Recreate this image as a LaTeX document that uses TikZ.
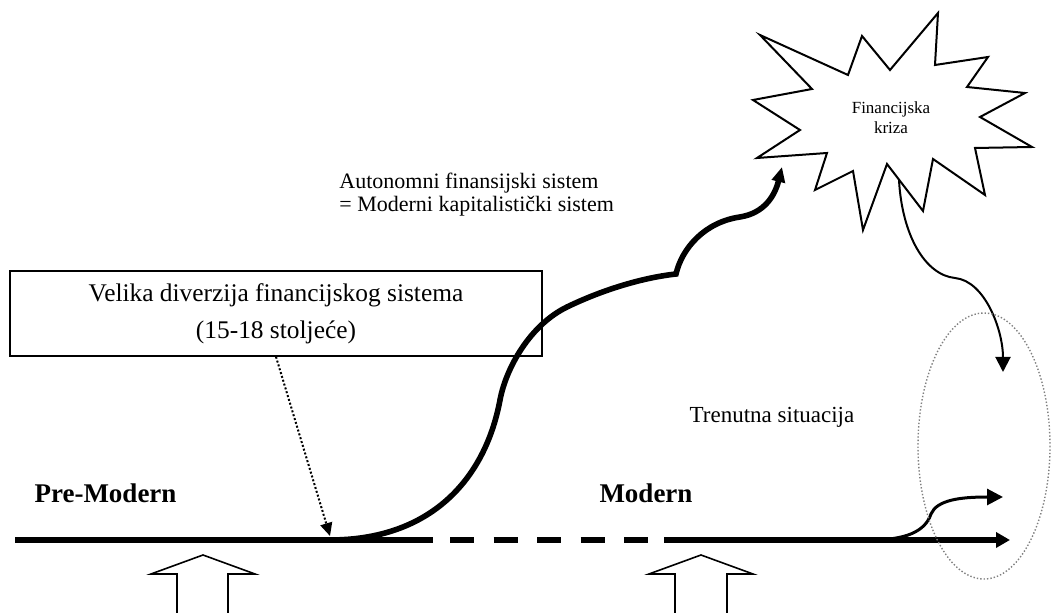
\documentclass[tikz,border=0pt]{standalone}
\usepackage{fontspec}
\setmainfont{Liberation Serif}
\usetikzlibrary{arrows.meta}
\usetikzlibrary{calc}

\begin{document}
\begin{tikzpicture}[x=0.5pt,y=-0.5pt,
    timeline/.style={black, line width=3pt},
    growth/.style={black, line width=2.8pt, -{Triangle[length=7.5pt,width=6.5pt]}},
    thinarrow/.style={black, line width=1pt, -{Triangle[length=7.5pt,width=7.5pt]}},
    hollowup/.style={black, line width=0.8pt, fill=white},
    eralabel/.style={font=\bfseries\fontsize{13.5}{16}\selectfont}]
            \useasboundingbox (0,0) rectangle (1051,613);

            \coordinate (origin) at (15,540);
            \coordinate (split) at (330,540);
            \coordinate (gapstart) at (433,540);
            \coordinate (dashstart) at (450,540);
            \coordinate (dashend) at (648,540);
            \coordinate (modern) at (664,540);
            \coordinate (branch) at (870,540);
            \coordinate (now) at (1010,540);
            \coordinate (future) at (1003,497);
            \coordinate (divtip) at (330,536);
            \coordinate (crisis) at (782,167);
            \coordinate (burst) at (899,180);
            \coordinate (landing) at (1003,372);
            \coordinate (situation) at (984,446);

            \draw[timeline] (origin) -- (gapstart);
            \draw[timeline, dash pattern=on 12pt off 9.75pt] (dashstart) -- (dashend);
            \draw[timeline, -{Triangle[length=7pt,width=7.5pt]}] (modern) -- (now);

            \draw[growth] (split) .. controls (430,540) and (485,480) .. (500,400)
                .. controls (506,368) and (530,325) .. (567,307)
                .. controls (600,291) and (640,278) .. (676,274)
                .. controls (682,248) and (705,222) .. (740,217)
                .. controls (765,213) and (775,195) .. (crisis);

            \draw[black, line width=1.5pt, -{Triangle[length=8pt,width=8pt]}] (branch)
                .. controls (905,540) and (925,532) .. (931,514)
                .. controls (937,500) and (960,497) .. (future);

            \draw[black, line width=1pt, line join=miter] (760,35) -- (848,75) -- (862,36) -- (890,70)
                -- (938,13) -- (935,65) -- (988,57) -- (967,87) -- (1025,93) -- (980,117)
                -- (1032,147) -- (975,148) -- (985,195) -- (933,159) -- (923,211) -- (887,164)
                -- (863,230) -- (853,171) -- (815,190) -- (827,153) -- (757,158) -- (800,130)
                -- (753,100) -- (812,89) -- cycle;
            \node[align=center, font=\fontsize{8.5}{10}\selectfont] (kriza) at (891,118) {Financijska\\kriza};

            \draw[thinarrow] (burst) .. controls (902,235) and (925,275) .. (955,278)
                .. controls (985,281) and (1003,330) .. (landing);

            \draw[gray, densely dotted, line width=0.7pt] (situation) ellipse [x radius=66, y radius=133];

            \node[draw, line width=0.8pt, minimum width=266pt, minimum height=42.5pt, align=center,
                font=\fontsize{12.7}{18.5}\selectfont] (diverzija) at (276,313.5)
                {Velika diverzija financijskog sistema\\(15-18 stoljeće)};
            \draw[black, line width=1pt, densely dotted, -{Triangle[length=6.5pt,width=6pt]}] (diverzija.south) -- (divtip);

            \node[anchor=west, align=left, inner sep=0pt, font=\fontsize{11}{11.5}\selectfont] (autonomni) at (339,195)
                {Autonomni finansijski sistem\\= Moderni kapitalistički sistem};
            \node[font=\fontsize{11.5}{13}\selectfont] (trenutna) at (772,417) {Trenutna situacija};

            \node[eralabel] (premodern) at (105.5,493) {Pre-Modern};
            \node[eralabel] (modernlabel) at (646,493) {Modern};

            \draw[hollowup] (177,616) -- (177,574) -- (151,574) -- (203,555) -- (255,574) -- (228,574) -- (228,616);
            \draw[hollowup] (675,616) -- (675,574) -- (649,574) -- (701,555) -- (753,574) -- (727,574) -- (727,616);
        \end{tikzpicture}
\end{document}
